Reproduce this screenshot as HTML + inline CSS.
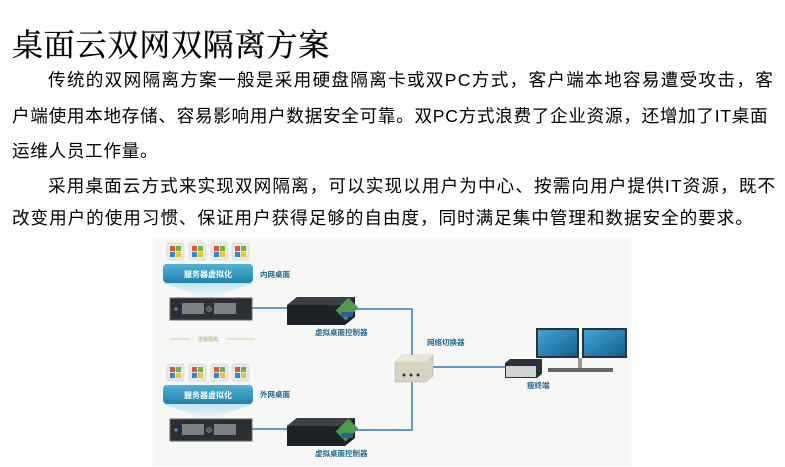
<!DOCTYPE html>
<html><head><meta charset="utf-8"><style>
body{margin:0;width:785px;height:467px;background:#fff;position:relative;overflow:hidden;font-family:"Liberation Sans","Noto Sans CJK SC",sans-serif;}
.t{position:absolute;left:12px;top:20px;font-family:"Liberation Serif","Noto Serif CJK SC",serif;font-size:31px;color:#000;white-space:nowrap;letter-spacing:0.8px;-webkit-text-stroke:0.3px #000}
.l{position:absolute;left:12px;font-size:17.6px;color:#000;white-space:nowrap;letter-spacing:0.7px;line-height:20px}
</style></head><body>
<div class="t">桌面云双网双隔离方案</div>
<div class="l" style="top:70px;left:48px;letter-spacing:1.3px">传统的双网隔离方案一般是采用硬盘隔离卡或双PC方式，客户端本地容易遭受攻击，客</div>
<div class="l" style="top:106px">户端使用本地存储、容易影响用户数据安全可靠。双PC方式浪费了企业资源，还增加了IT桌面</div>
<div class="l" style="top:141px">运维人员工作量。</div>
<div class="l" style="top:176px;left:48px;letter-spacing:1.1px">采用桌面云方式来实现双网隔离，可以实现以用户为中心、按需向用户提供IT资源，既不</div>
<div class="l" style="top:208px;letter-spacing:0.95px">改变用户的使用习惯、保证用户获得足够的自由度，同时满足集中管理和数据安全的要求。</div>
<svg style="position:absolute;left:0;top:0" width="785" height="467">
<defs>
<linearGradient id="bn" x1="0" y1="0" x2="0" y2="1"><stop offset="0" stop-color="#4fb3d6"/><stop offset="1" stop-color="#1d82ad"/></linearGradient>
<linearGradient id="tr" x1="0" y1="0" x2="0" y2="1"><stop offset="0" stop-color="#bfe2ef"/><stop offset="1" stop-color="#f4fafc"/></linearGradient>
<linearGradient id="mn" x1="0" y1="0" x2="1" y2="1"><stop offset="0" stop-color="#3fa6d6"/><stop offset="1" stop-color="#145f8f"/></linearGradient>
</defs>
<rect x="153" y="238" width="477" height="228" fill="#f7f7f5"/>
<g id="top">
<g fill="#e8e8e8" stroke="#ccc" stroke-width="0.5">
<rect x="167" y="243" width="17" height="17" rx="2"/><rect x="189" y="243" width="17" height="17" rx="2"/><rect x="211" y="243" width="17" height="17" rx="2"/><rect x="232" y="243" width="17" height="17" rx="2"/></g>
<g><rect x="170" y="246" width="5" height="5" fill="#e5532f"/><rect x="176" y="246" width="5" height="5" fill="#6cb63e"/><rect x="170" y="252" width="5" height="5" fill="#2a8ad4"/><rect x="176" y="252" width="5" height="5" fill="#f5c02a"/>
<rect x="192" y="246" width="5" height="5" fill="#e5532f"/><rect x="198" y="246" width="5" height="5" fill="#6cb63e"/><rect x="192" y="252" width="5" height="5" fill="#2a8ad4"/><rect x="198" y="252" width="5" height="5" fill="#f5c02a"/>
<rect x="214" y="246" width="5" height="5" fill="#e5532f"/><rect x="220" y="246" width="5" height="5" fill="#6cb63e"/><rect x="214" y="252" width="5" height="5" fill="#2a8ad4"/><rect x="220" y="252" width="5" height="5" fill="#f5c02a"/>
<rect x="235" y="246" width="5" height="5" fill="#e5532f"/><rect x="241" y="246" width="5" height="5" fill="#6cb63e"/><rect x="235" y="252" width="5" height="5" fill="#2a8ad4"/><rect x="241" y="252" width="5" height="5" fill="#f5c02a"/></g>
<polygon points="163,283 253,283 208,299" fill="url(#tr)"/>
<rect x="163" y="264" width="90" height="19" rx="4" fill="url(#bn)"/>
<text x="208" y="277" font-size="8" fill="#fff" text-anchor="middle" font-weight="bold">服务器虚拟化</text>
<rect x="170" y="298" width="82" height="22" fill="#2b2f33" stroke="#666"/>
<rect x="182" y="303" width="22" height="11" fill="#7a8288"/><rect x="214" y="303" width="22" height="11" fill="#7a8288"/>
<circle cx="176" cy="309" r="1.5" fill="#4aa3ff"/><circle cx="209" cy="309" r="2.5" fill="#555" stroke="#aaa" stroke-width="0.5"/>
<polygon points="287,305 297,297 355,297 355,317 345,325 287,325" fill="#1d2226"/>
<polygon points="287,305 297,297 355,297 345,305" fill="#3a4046"/>
<rect x="340" y="300" width="14" height="18" fill="#4b9d4a" transform="rotate(45 347 309)"/>
<rect x="341" y="312" width="12" height="5" fill="#2c5fa0"/>
</g>
<use href="#top" transform="translate(0,121)"/>
<text x="260" y="277" font-size="7.5" fill="#1a6a96" font-weight="bold">内网桌面</text>
<text x="260" y="397" font-size="7.5" fill="#1a6a96" font-weight="bold">外网桌面</text>
<text x="315" y="335" font-size="7.5" fill="#1a6a96" font-weight="bold">虚拟桌面控制器</text>
<text x="315" y="456" font-size="7.5" fill="#1a6a96" font-weight="bold">虚拟桌面控制器</text>
<line x1="170" y1="339" x2="190" y2="339" stroke="#c9b88a" stroke-width="0.8"/>
<line x1="227" y1="339" x2="255" y2="339" stroke="#c9b88a" stroke-width="0.8"/>
<text x="208" y="341" font-size="5" fill="#b0a070" text-anchor="middle">逻辑隔离</text>
<g stroke="#2b7fc0" stroke-width="1.5" fill="none">
<line x1="252" y1="308" x2="287" y2="308"/><line x1="252" y1="429" x2="287" y2="429"/>
<polyline points="355,309 412,309 412,430 355,430"/>
<line x1="433" y1="367" x2="505" y2="367"/>
</g>
<polygon points="395,362 402,355 433,355 433,376 426,382 395,382" fill="#d8d3bf" stroke="#aaa" stroke-width="0.5"/>
<polygon points="395,362 402,355 433,355 426,362" fill="#ebe7d6"/>
<circle cx="404" cy="375" r="1.5" fill="#333"/><circle cx="411" cy="375" r="1.5" fill="#333"/><circle cx="418" cy="375" r="1.5" fill="#333"/>
<text x="427" y="345" font-size="7.5" fill="#1a6a96" font-weight="bold">网络切换器</text>
<rect x="536" y="328" width="43" height="30" fill="#2d3236"/><rect x="538" y="330" width="39" height="26" fill="url(#mn)"/>
<rect x="582" y="328" width="45" height="30" fill="#2d3236"/><rect x="584" y="330" width="41" height="26" fill="url(#mn)"/>
<rect x="578" y="358" width="4" height="10" fill="#999"/>
<rect x="548" y="368" width="65" height="4" fill="#666"/>
<polygon points="505,363 510,359 542,359 542,374 537,378 505,378" fill="#2d3236"/>
<rect x="506" y="366" width="30" height="11" fill="#cfd3d6"/>
<text x="527" y="388" font-size="7.5" fill="#1a6a96" font-weight="bold">瘦终端</text>
</svg>
</body></html>
